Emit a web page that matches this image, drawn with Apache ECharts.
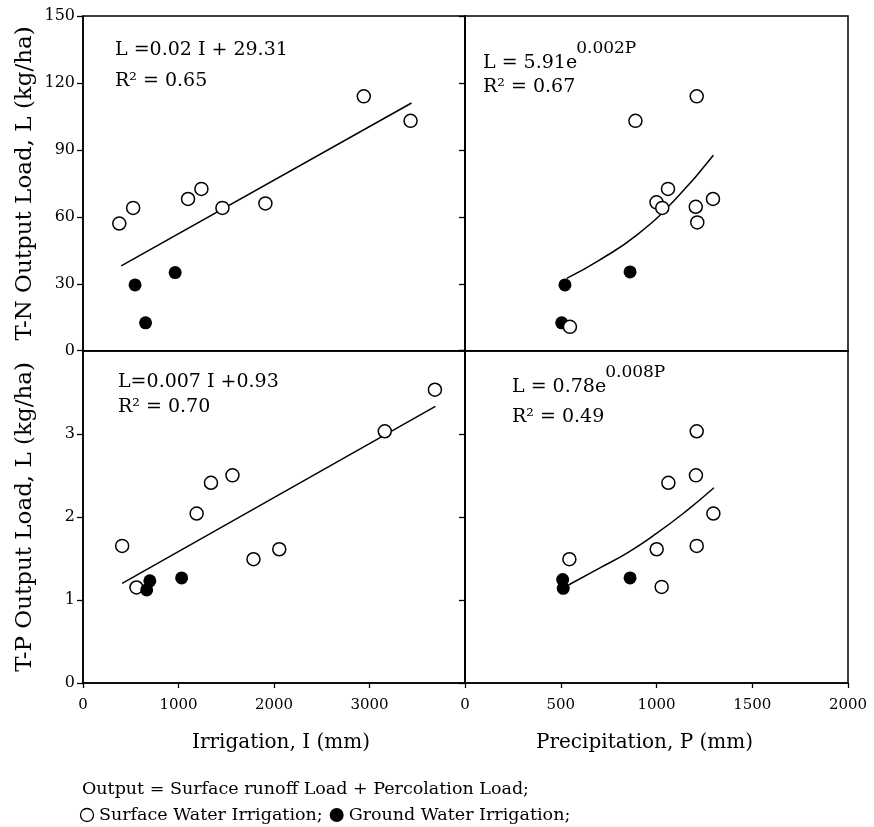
<!DOCTYPE html>
<html><head><meta charset="utf-8">
<script src="https://cdn.jsdelivr.net/npm/echarts/dist/echarts.min.js"></script>
<style>html,body{margin:0;padding:0;background:#fff}#c{width:874px;height:827px}</style>
</head><body><div id="c"></div>
<script>
// ---- data ----
// T-N output load vs irrigation (top-left)
const tnIrrOpen   = [[380,57],[525,64],[1100,68],[1240,72.5],[1460,64],[1910,66],[2940,114],[3430,103]];
const tnIrrFilled = [[545,29.5],[655,12.5],[965,35]];
const tnIrrTrend  = [[400,38],[3440,111]];
// T-N output load vs precipitation (top-right)
const tnPreOpen   = [[890,103],[1210,114],[1060,72.5],[1000,66.5],[1030,64],[1205,64.5],[1295,68],[1213,57.5],[548,10.7]];
const tnPreFilled = [[522,29.5],[862,35.3],[505,12.5]];
const tnPreTrend  = [[531,32.4],[700,40.5],[900,52],[1100,68],[1297,87.6]];
// T-P output load vs irrigation (bottom-left)
const tpIrrOpen   = [[410,1.65],[560,1.15],[1190,2.04],[1340,2.41],[1565,2.5],[1785,1.49],[2055,1.61],[3160,3.03],[3685,3.53]];
const tpIrrFilled = [[700,1.23],[667,1.12],[1033,1.265]];
const tpIrrTrend  = [[410,1.2],[3690,3.33]];
// T-P output load vs precipitation (bottom-right)
const tpPreOpen   = [[1210,3.03],[1206,2.5],[1062,2.41],[1297,2.04],[1001,1.61],[1210,1.65],[545,1.49],[1027,1.157]];
const tpPreFilled = [[510,1.245],[513,1.14],[862,1.265]];
const tpPreTrend  = [[540,1.18],[700,1.38],[850,1.57],[1000,1.8],[1150,2.06],[1300,2.35]];

// axis ranges / ticks
const irrAxis = {min:0, max:4000, interval:1000};
const preAxis = {min:0, max:2000, interval:500};
const tnAxis  = {min:0, max:150, interval:30};
const tpAxis  = {min:0, max:4, interval:1};

// texts
const xNames = ['Irrigation, I (mm)', 'Precipitation, P (mm)'];
const yNames = ['T-N Output Load, L (kg/ha)', 'T-P Output Load, L (kg/ha)'];
const eqs = [
  {main:'L =0.02 I + 29.31', sup:'', r2:'R\u00b2 = 0.65'},
  {main:'L = 5.91e', sup:'0.002P', r2:'R\u00b2 = 0.67'},
  {main:'L=0.007 I +0.93', sup:'', r2:'R\u00b2 = 0.70'},
  {main:'L = 0.78e', sup:'0.008P', r2:'R\u00b2 = 0.49'}
];
const footer1 = 'Output = Surface runoff Load + Percolation Load;';
const legendOpen = 'Surface Water Irrigation;';
const legendFilled = 'Ground Water Irrigation;';

// ---- chart ----
const SERIF = '"DejaVu Serif", serif';
const ctx = document.createElement('canvas').getContext('2d');
function tw(t, size){ ctx.font = size + 'px "DejaVu Serif"'; return ctx.measureText(t).width; }
const plain = v => String(v);

const L0 = 83, XM = 465, R0 = 848, T0 = 16, YM = 350.7, B0 = 683;
const grids = [
  {left:L0, top:T0, width:XM-L0, height:YM-T0},
  {left:XM, top:T0, width:R0-XM, height:YM-T0},
  {left:L0, top:YM, width:XM-L0, height:B0-YM},
  {left:XM, top:YM, width:R0-XM, height:B0-YM}
].map(g => Object.assign(g, {show:true, borderColor:'#000', borderWidth:1.5, backgroundColor:'transparent'}));

const lineS = {lineStyle:{color:'#000', width:1.6}};
function xAx(i, rng, labels, name, pad){
  return Object.assign({
    type:'value', gridIndex:i, splitLine:{show:false},
    axisLine:Object.assign({show:true, onZero:false}, lineS),
    axisTick:{show:labels, inside:false, length:5, lineStyle:{color:'#000', width:1.3}},
    axisLabel:{show:labels, margin:15, color:'#000', fontFamily:SERIF, fontSize:15, formatter:plain,
               showMaxLabel: i === 3, showMinLabel:true},
    name: name || '', nameLocation:'middle', nameGap:50,
    nameTextStyle:{color:'#000', fontFamily:SERIF, fontSize:20, padding:pad || 0}
  }, rng);
}
function yAx(i, rng, labels, name, showMax){
  return Object.assign({
    type:'value', gridIndex:i, splitLine:{show:false},
    axisLine:Object.assign({show:true, onZero:false}, lineS),
    axisTick:{show:true, inside:false, length:6, lineStyle:{color:'#000', width:1.3}},
    axisLabel:{show:labels, margin:8, color:'#000', fontFamily:SERIF, fontSize:16, formatter:plain, showMaxLabel:showMax},
    name: name || '', nameLocation:'middle', nameRotate:90, nameGap:46,
    nameTextStyle:{color:'#000', fontFamily:SERIF, fontSize:23}
  }, rng);
}

function openS(i, d){ return {type:'scatter', xAxisIndex:i, yAxisIndex:i, data:d, symbol:'circle', symbolSize:13,
  itemStyle:{color:'#fff', borderColor:'#000', borderWidth:1.5, opacity:1}, z:3}; }
function fillS(i, d){ return {type:'scatter', xAxisIndex:i, yAxisIndex:i, data:d, symbol:'circle', symbolSize:13,
  itemStyle:{color:'#000', opacity:1}, z:3}; }
function trendS(i, d, smooth){ return {type:'line', xAxisIndex:i, yAxisIndex:i, data:d, showSymbol:false, symbol:'none',
  smooth:smooth, lineStyle:{color:'#000', width:1.5}, z:2}; }

// annotation text
const eqPos = [
  {x:115, y:50, y2:81},
  {x:483, y:63, y2:87},
  {x:118, y:382, y2:407},
  {x:512, y:387, y2:417}
];
const graphic = [];
eqs.forEach((e, k) => {
  const p = eqPos[k];
  graphic.push({type:'text', x:p.x, y:p.y, style:{text:e.main, fill:'#000', fontFamily:SERIF, fontSize:19, verticalAlign:'middle', align:'left'}});
  if (e.sup) {
    graphic.push({type:'text', x:p.x + tw(e.main, 19) - 1, y:p.y - 14, style:{text:e.sup, fill:'#000', fontFamily:SERIF, fontSize:17, verticalAlign:'middle', align:'left'}});
  }
  graphic.push({type:'text', x:p.x, y:p.y2, style:{text:e.r2, fill:'#000', fontFamily:SERIF, fontSize:19, verticalAlign:'middle', align:'left'}});
});
// footer
graphic.push({type:'text', x:82, y:789, style:{text:footer1, fill:'#000', fontFamily:SERIF, fontSize:17.5, verticalAlign:'middle'}});
const ly = 815;
graphic.push({type:'circle', shape:{cx:87, cy:ly, r:6.5}, style:{fill:'#fff', stroke:'#000', lineWidth:1.3}});
graphic.push({type:'text', x:99, y:ly, style:{text:legendOpen, fill:'#000', fontFamily:SERIF, fontSize:17.5, verticalAlign:'middle'}});
const fx = 99 + tw(legendOpen, 17.5) + 14;
graphic.push({type:'circle', shape:{cx:fx, cy:ly, r:7}, style:{fill:'#000'}});
graphic.push({type:'text', x:fx + 12, y:ly, style:{text:legendFilled, fill:'#000', fontFamily:SERIF, fontSize:17.5, verticalAlign:'middle'}});

const option = {
  animation:false,
  backgroundColor:'#fff',
  grid:grids,
  xAxis:[xAx(0, irrAxis, false), xAx(1, preAxis, false),
         xAx(2, irrAxis, true, xNames[0], [0,0,0,14]), xAx(3, preAxis, true, xNames[1], [0,24,0,0])],
  yAxis:[yAx(0, tnAxis, true, yNames[0], true), yAx(1, tnAxis, false), yAx(2, tpAxis, true, yNames[1], false), yAx(3, tpAxis, false)],
  series:[
    trendS(0, tnIrrTrend, false), openS(0, tnIrrOpen), fillS(0, tnIrrFilled),
    trendS(1, tnPreTrend, true), fillS(1, tnPreFilled), openS(1, tnPreOpen),
    trendS(2, tpIrrTrend, false), openS(2, tpIrrOpen), fillS(2, tpIrrFilled),
    trendS(3, tpPreTrend, true), openS(3, tpPreOpen), fillS(3, tpPreFilled)
  ],
  graphic:graphic
};
const chart = echarts.init(document.getElementById('c'), null, {renderer:'canvas'});
chart.setOption(option);
</script>
</body></html>
